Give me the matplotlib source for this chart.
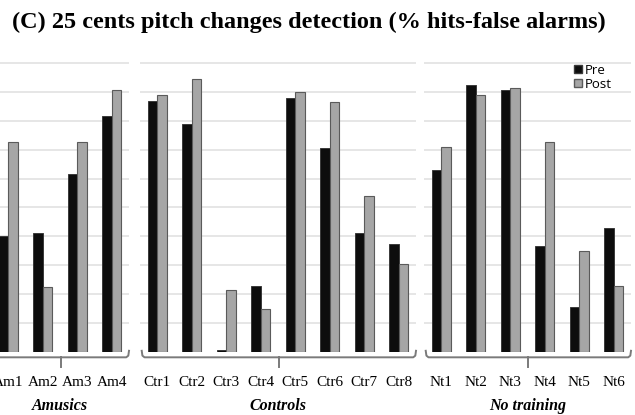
import numpy as np
import matplotlib
matplotlib.use('Agg')
from matplotlib import pyplot as plt
from matplotlib.transforms import blended_transform_factory
from matplotlib.patches import Patch

# values, in gridline units (10 = top gridline)
amusics_labels = ['Am1', 'Am2', 'Am3', 'Am4']
amusics_pre = [4.0, 4.1, 6.15, 8.15]
amusics_post = [7.25, 2.25, 7.25, 9.05]

controls_labels = ['Ctr1', 'Ctr2', 'Ctr3', 'Ctr4', 'Ctr5', 'Ctr6', 'Ctr7', 'Ctr8']
controls_pre = [8.7, 7.9, 0.06, 2.3, 8.8, 7.05, 4.1, 3.75]
controls_post = [8.9, 9.45, 2.15, 1.5, 9.0, 8.65, 5.4, 3.05]

notrain_labels = ['Nt1', 'Nt2', 'Nt3', 'Nt4', 'Nt5', 'Nt6']
notrain_pre = [6.3, 9.25, 9.05, 3.65, 1.55, 4.3]
notrain_post = [7.1, 8.9, 9.15, 7.25, 3.5, 2.3]

group_names = ['Amusics', 'Controls', 'No training']

W, H = 635, 415
SERIF = 'Liberation Serif'
PRE_COLOR = '#0d0d0d'
POST_COLOR = '#a6a6a6'


def px_box(left, width, base=352, top=48.5):
    return [left / W, (H - base) / H, width / W, (base - top) / H]


def draw_panel(ax, labels, pre, post, group):
    n = len(labels)
    x = np.arange(n)
    bw = 0.27
    ax.bar(x - bw / 2, pre, bw, color=PRE_COLOR, edgecolor='#3a3a3a', linewidth=0.7, zorder=3)
    ax.bar(x + bw / 2, post, bw, color=POST_COLOR, edgecolor='#5a5a5a', linewidth=0.8, zorder=3)
    ax.set_xlim(-0.5, n - 0.5)
    ax.set_ylim(0, 10.5)
    ax.set_yticks(range(1, 11))
    ax.yaxis.grid(True, color='#e4e4e4', linewidth=1.3)
    ax.set_axisbelow(True)
    ax.tick_params(axis='y', length=0, labelleft=False)
    ax.set_xticks(x)
    ax.set_xticklabels(labels, family=SERIF, fontsize=11)
    ax.tick_params(axis='x', length=0, pad=17)
    for s in ax.spines.values():
        s.set_visible(False)

    # bracket under the group
    tr = blended_transform_factory(ax.transData, ax.transAxes)
    x0, x1 = -0.45, n - 0.5
    ys = [0.004, -0.012, -0.0175, -0.0175, -0.012, 0.004]
    xs = [x0, x0 + 0.02, x0 + 0.08, x1 - 0.08, x1 - 0.02, x1]
    ax.plot(xs, ys, color='#7a7a7a', lw=1.4, transform=tr, clip_on=False, zorder=4)
    xm = (x0 + x1) / 2
    ax.plot([xm, xm], [-0.0175, -0.05], color='#7a7a7a', lw=1.4, transform=tr, clip_on=False)

    ax.text(0.5, -0.192, group, transform=ax.transAxes, ha='center', va='baseline',
            family=SERIF, fontsize=11.5, style='italic', fontweight='bold')


fig = plt.figure(figsize=(W / 100, H / 100), dpi=100)

ax1 = fig.add_axes(px_box(-9, 138))
ax2 = fig.add_axes(px_box(140, 276))
ax3 = fig.add_axes(px_box(424, 207))

draw_panel(ax1, amusics_labels, amusics_pre, amusics_post, group_names[0])
draw_panel(ax2, controls_labels, controls_pre, controls_post, group_names[1])
draw_panel(ax3, notrain_labels, notrain_pre, notrain_post, group_names[2])

handles = [Patch(facecolor=PRE_COLOR, edgecolor='#3a3a3a', label='Pre'),
           Patch(facecolor=POST_COLOR, edgecolor='#5a5a5a', label='Post')]
fig.legend(handles=handles, loc='upper left', bbox_to_anchor=(567 / W, (H - 57) / H),
           frameon=False, handlelength=0.6, handleheight=0.6, handletextpad=0.25,
           labelspacing=0.1, borderpad=0, prop={'family': 'Open Sans', 'size': 9.5})

fig.text(12 / W, (H - 28) / H, '(C) 25 cents pitch changes detection (% hits-false alarms)',
         family=SERIF, fontweight='bold', fontsize=17.5, ha='left', va='baseline')

fig.savefig('out.png', dpi=100)
